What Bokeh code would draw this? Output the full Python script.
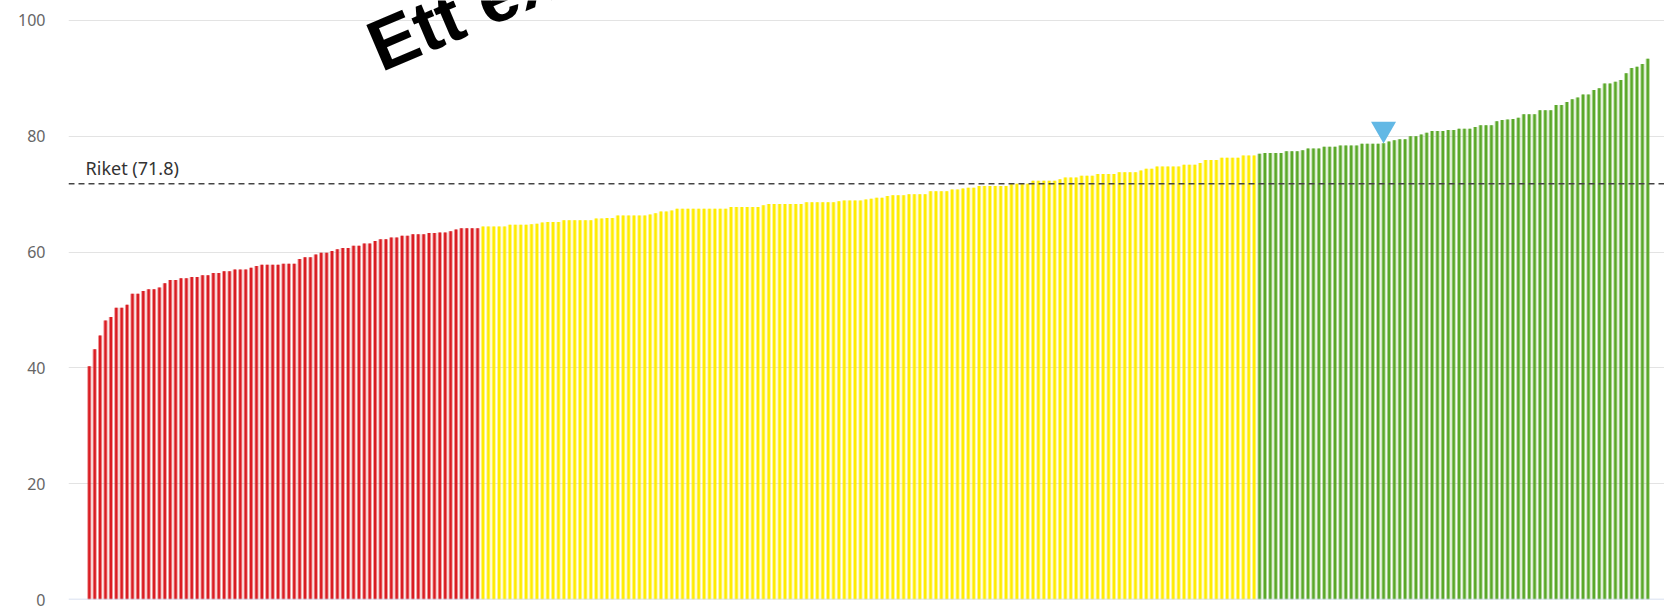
from bokeh.plotting import figure
from bokeh.models import Range1d, Span, Label, FixedTicker, ColumnDataSource
from bokeh.embed import file_html
from bokeh.resources import INLINE

# ---- data ----
values_red = [40.3, 43.2, 45.6, 48.2, 48.8, 50.4, 50.4, 50.9, 52.8, 52.8,
              53.3, 53.6, 53.6, 53.9, 54.6, 55.2, 55.2, 55.5, 55.5, 55.7,
              55.7, 56.0, 56.0, 56.4, 56.4, 56.7, 56.7, 57.0, 57.0, 57.0,
              57.3, 57.6, 57.8, 57.8, 57.8, 57.8, 58.0, 58.0, 58.0, 58.8,
              59.1, 59.1, 59.6, 59.9, 59.9, 60.2, 60.5, 60.7, 60.7, 61.1,
              61.1, 61.5, 61.5, 61.9, 62.2, 62.2, 62.5, 62.5, 62.8, 62.8,
              63.1, 63.1, 63.1, 63.3, 63.3, 63.4, 63.4, 63.6, 63.9, 64.1,
              64.1, 64.1, 64.1]

values_yellow = [64.4, 64.4, 64.4, 64.4, 64.4, 64.7, 64.7, 64.7, 64.7, 64.8,
                 64.9, 65.1, 65.2, 65.2, 65.2, 65.5, 65.5, 65.5, 65.5, 65.5,
                 65.5, 65.8, 65.8, 65.9, 65.9, 66.3, 66.3, 66.3, 66.3, 66.3,
                 66.3, 66.5, 66.7, 67.0, 67.0, 67.2, 67.5, 67.5, 67.5, 67.5,
                 67.5, 67.5, 67.5, 67.5, 67.5, 67.5, 67.8, 67.8, 67.8, 67.8,
                 67.8, 67.8, 68.1, 68.3, 68.3, 68.3, 68.3, 68.3, 68.3, 68.3,
                 68.6, 68.6, 68.6, 68.6, 68.6, 68.6, 68.8, 68.9, 68.9, 68.9,
                 68.9, 69.1, 69.2, 69.4, 69.4, 69.7, 69.8, 69.8, 69.8, 70.0,
                 70.0, 70.0, 70.0, 70.5, 70.5, 70.5, 70.5, 70.8, 70.8, 71.0,
                 71.1, 71.1, 71.4, 71.4, 71.4, 71.4, 71.4, 71.4, 71.8, 71.8,
                 71.8, 71.8, 72.3, 72.3, 72.3, 72.3, 72.3, 72.6, 72.9, 72.9,
                 72.9, 73.2, 73.2, 73.2, 73.5, 73.5, 73.5, 73.5, 73.8, 73.8,
                 73.8, 73.8, 74.1, 74.4, 74.4, 74.8, 74.8, 74.8, 74.8, 74.8,
                 75.1, 75.1, 75.1, 75.4, 75.9, 75.9, 75.9, 76.3, 76.3, 76.3,
                 76.3, 76.7, 76.7, 76.7]

values_green = [77.0, 77.1, 77.1, 77.1, 77.1, 77.4, 77.4, 77.4, 77.6, 77.9,
                77.9, 77.9, 78.2, 78.2, 78.2, 78.4, 78.4, 78.4, 78.4, 78.7,
                78.7, 78.7, 78.7, 78.8, 79.1, 79.3, 79.5, 79.5, 80.0, 80.0,
                80.3, 80.6, 80.9, 80.9, 80.9, 81.1, 81.1, 81.3, 81.3, 81.3,
                81.6, 81.9, 81.9, 81.9, 82.6, 82.8, 82.9, 83.0, 83.2, 83.8,
                83.8, 83.8, 84.5, 84.5, 84.5, 85.4, 85.4, 85.9, 86.4, 86.7,
                87.2, 87.2, 88.0, 88.3, 89.1, 89.1, 89.4, 89.7, 90.9, 91.8,
                92.0, 92.5, 93.4]

riket = 71.8
riket_label = "Riket (71.8)"
marked_index = 240
y_ticks = [0, 20, 40, 60, 80, 100]
overlay_text = "Ett exempel"

# ---- styles ----
RED, YELLOW, GREEN = "#da1c22", "#ffec00", "#5aa829"
MARK_BLUE = "#62b8e5"
TOP_PAD = 3.45  # headroom above 100 so the frame reaches the canvas top

values = values_red + values_yellow + values_green
colors = ([RED] * len(values_red) + [YELLOW] * len(values_yellow)
          + [GREEN] * len(values_green))
xs = list(range(len(values)))
src = ColumnDataSource(dict(x=xs, top=values, color=colors))

p = figure(width=1664, height=610, output_backend="svg", toolbar_location=None,
           tools="", x_range=Range1d(-3.86, len(values) + 2.1),
           y_range=Range1d(0, y_ticks[-1] + TOP_PAD), x_axis_location=None,
           min_border_left=68, min_border_right=0, min_border_top=0,
           min_border_bottom=11)
p.outline_line_color = None
p.background_fill_color = "white"
p.border_fill_color = "white"

for g in p.grid:
    if g.dimension == 0:
        g.visible = False
    else:
        g.grid_line_color = "#e3e3e3"
        g.grid_line_width = 1.2

p.yaxis.ticker = FixedTicker(ticks=y_ticks)
p.yaxis.axis_line_color = None
p.yaxis.major_tick_line_color = None
p.yaxis.minor_tick_line_color = None
p.yaxis.major_tick_out = 0
p.yaxis.major_tick_in = 0
p.yaxis.major_label_standoff = 23
p.yaxis.major_label_text_font = "Noto Sans"
p.yaxis.major_label_text_font_size = "16px"
p.yaxis.major_label_text_color = "#666666"

# bars: soft outer edge + solid core
p.vbar(x="x", top="top", bottom=0, width=0.78, source=src,
       fill_color="color", fill_alpha=0.45, line_color=None)
p.vbar(x="x", top="top", bottom=0, width=0.42, source=src,
       fill_color="color", line_color=None)

p.add_layout(Span(location=0, dimension="width", line_color="#ccd6eb",
                  line_width=1.5))
p.add_layout(Span(location=riket, dimension="width", line_color="#444444",
                  line_width=1.5, line_dash="6 4"))
p.add_layout(Label(x=-0.7, y=riket, y_offset=4, text=riket_label,
                   text_baseline="bottom", text_align="left",
                   text_font="Noto Sans", text_font_size="18px",
                   text_color="#333333"))

p.scatter(x=[marked_index], y=[values[marked_index] + 2.45],
          marker="inverted_triangle", size=25, fill_color=MARK_BLUE,
          line_color=None)

p.add_layout(Label(x=303, y=550, x_units="screen", y_units="screen",
                   text=overlay_text, angle=23, angle_units="deg",
                   text_font="Liberation Sans", text_font_style="bold",
                   text_font_size="72px", text_color="black",
                   text_baseline="alphabetic", text_align="left"))

open("out.html", "w").write(file_html(p, INLINE))
